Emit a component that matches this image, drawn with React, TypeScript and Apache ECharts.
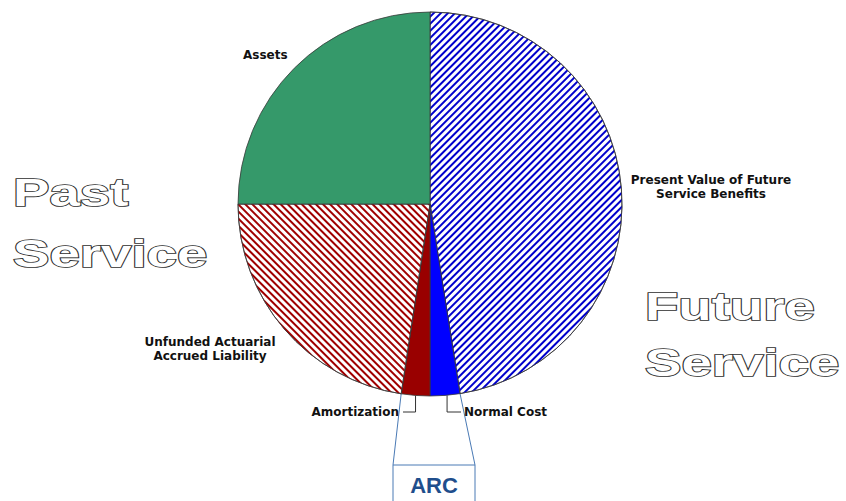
import React, { useEffect, useRef } from "react";
import * as echarts from "echarts";

// Slices, clockwise from 12 o'clock (share of the whole, %)
const categories = [
  "Present Value of Future\nService Benefits",
  "Normal Cost",
  "Amortization",
  "Unfunded Actuarial\nAccrued Liability",
  "Assets",
];
const shares = [47.5, 2.5, 2.4, 22.6, 25.0];

// Side captions
const pastCaption = ["Past", "Service"];
const futureCaption = ["Future", "Service"];
const arcCaption = "ARC";

const CX = 430;
const CY = 204;
const R = 192;

const hatch = (color: string, rotation: number) => ({
  symbol: "rect",
  symbolSize: 1,
  dashArrayX: [1, 0],
  dashArrayY: [2, 3],
  rotation,
  color,
  backgroundColor: "#ffffff",
});

const sliceStyles: any[] = [
  { color: "#ffffff", decal: hatch("#0000cc", -Math.PI / 4) },
  { color: "#0000ff" },
  { color: "#990000" },
  { color: "#ffffff", decal: hatch("#a00000", Math.PI / 4) },
  { color: "#35996a" },
];

// angle (degrees clockwise from top) at the start of each slice
const total = shares.reduce((a, b) => a + b, 0);
const startAngles: number[] = [];
shares.reduce((acc, v) => {
  startAngles.push((acc / total) * 360);
  return acc + v;
}, 0);
const endAngle = (i: number) => startAngles[i] + (shares[i] / total) * 360;
const midAngle = (i: number) => (startAngles[i] + endAngle(i)) / 2;
const polar = (deg: number, r = R): [number, number] => {
  const a = (deg * Math.PI) / 180;
  return [CX + r * Math.sin(a), CY - r * Math.cos(a)];
};

export default function App() {
  const ref = useRef<HTMLDivElement>(null);

  useEffect(() => {
    document.body.style.margin = "0";
    if (!ref.current) return;
    const chart = echarts.init(ref.current, null, { renderer: "svg" });

    const labelFont = {
      fontFamily: "DejaVu Sans",
      fontWeight: "bold" as const,
      fontSize: 12,
      color: "#111",
      lineHeight: 14,
    };

    const bigText = (text: string, x: number, y: number) => ({
      type: "text",
      x,
      y,
      scaleX: 1.4,
      silent: true,
      style: {
        text,
        font: 'bold 39px "Liberation Sans", Arial, sans-serif',
        fill: "#ffffff",
        stroke: "#2e2e2e",
        lineWidth: 1.7,
        align: "left",
        verticalAlign: "middle",
      },
    });

    // ARC bracket from the outer corners of Amortization + Normal Cost
    const leftCorner = polar(endAngle(2));
    const rightCorner = polar(startAngles[1]);
    const boxLeft = 393;
    const boxRight = 475;
    const boxTop = 465;
    const arcColor = "#4a7ab5";

    const option: any = {
      animation: false,
      backgroundColor: "#ffffff",
      series: [
        {
          type: "pie",
          center: [CX, CY],
          radius: R,
          startAngle: 90,
          clockwise: true,
          avoidLabelOverlap: false,
          silent: true,
          emphasis: { disabled: true },
          itemStyle: { borderColor: "#3a3a3a", borderWidth: 0.8 },
          label: { show: true, position: "outside", ...labelFont },
          labelLine: { show: false },
          data: categories.map((name, i) => ({
            name,
            value: shares[i],
            itemStyle: sliceStyles[i],
            labelLine:
              i === 1 || i === 2
                ? { show: true, lineStyle: { color: "#333", width: 1 } }
                : { show: false },
          })),
          labelLayout: (p: any) => {
            const i = p.dataIndex;
            if (i === 0) return { x: 711, y: 187, align: "center", verticalAlign: "middle" };
            if (i === 4) return { x: 243, y: 55, align: "left", verticalAlign: "middle" };
            if (i === 3) return { x: 210, y: 349, align: "center", verticalAlign: "middle" };
            const [sx, sy] = polar(midAngle(i));
            const ly = 412;
            if (i === 2) {
              return {
                x: 399,
                y: ly,
                align: "right",
                verticalAlign: "middle",
                labelLinePoints: [[sx, sy], [sx, ly], [403, ly]],
              };
            }
            return {
              x: 464,
              y: ly,
              align: "left",
              verticalAlign: "middle",
              labelLinePoints: [[sx + 2, sy], [sx + 2, ly], [461, ly]],
            };
          },
        },
      ],
      graphic: [
        bigText(pastCaption[0], 13, 192),
        bigText(pastCaption[1], 13, 253),
        bigText(futureCaption[0], 645, 306),
        bigText(futureCaption[1], 645, 362),
        {
          type: "line",
          silent: true,
          shape: { x1: leftCorner[0], y1: leftCorner[1], x2: boxLeft, y2: boxTop },
          style: { stroke: arcColor, lineWidth: 1 },
        },
        {
          type: "line",
          silent: true,
          shape: { x1: rightCorner[0], y1: rightCorner[1], x2: boxRight, y2: boxTop },
          style: { stroke: arcColor, lineWidth: 1 },
        },
        {
          type: "rect",
          silent: true,
          shape: { x: boxLeft, y: boxTop, width: boxRight - boxLeft, height: 60 },
          style: { stroke: arcColor, fill: "none", lineWidth: 1 },
        },
        {
          type: "text",
          silent: true,
          x: (boxLeft + boxRight) / 2,
          y: 485,
          style: {
            text: arcCaption,
            font: 'bold 22px "Liberation Sans", Arial, sans-serif',
            fill: "#1f4e8c",
            align: "center",
            verticalAlign: "middle",
          },
        },
      ],
    };

    chart.setOption(option);
    return () => chart.dispose();
  }, []);

  return <div ref={ref} style={{ width: 846, height: 501 }} />;
}
